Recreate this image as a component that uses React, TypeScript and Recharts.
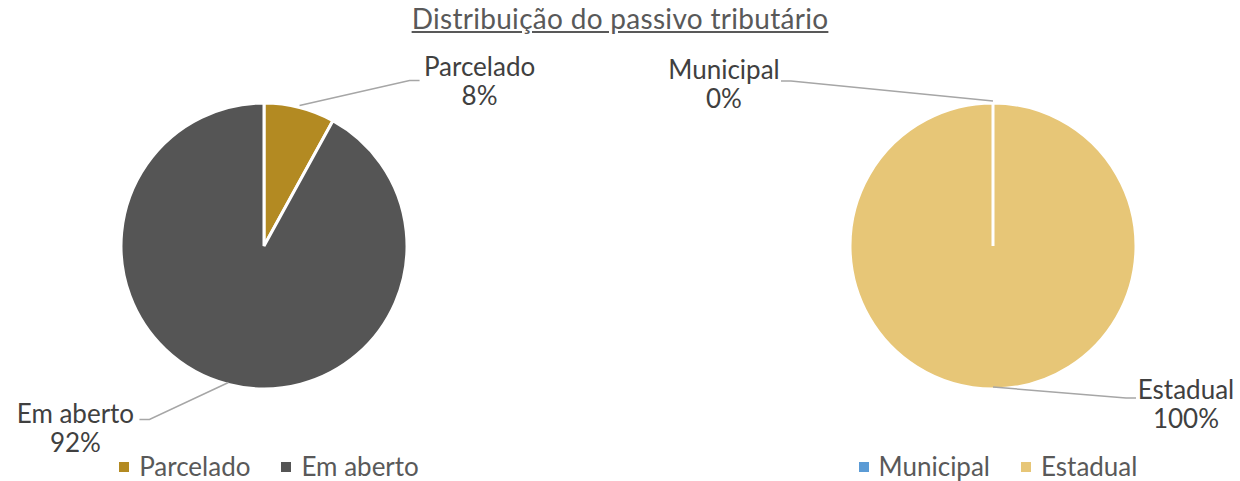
import React from "react";
import { PieChart, Pie, Cell, Legend } from "recharts";

const leftNames = ["Parcelado", "Em aberto"];
const leftValues = [8, 92];
const leftColors = ["#b38a22", "#555555"];

const rightNames = ["Municipal", "Estadual"];
const rightValues = [0, 100];
const rightColors = ["#5b9bd5", "#e7c677"];

// label placement relative to the slice edge: end of leader line, text offsets
const LABEL_POS: Record<string, { dx: number; dy: number; tx: number; ty: number }> = {
  Parcelado: { dx: 120, dy: -27, tx: 60, ty: -4 },
  "Em aberto": { dx: -89, dy: 35, tx: -64, ty: 3 },
  Municipal: { dx: -212, dy: -22, tx: -57, ty: -2 },
  Estadual: { dx: 143, dy: 9, tx: 50, ty: 1 },
};

const FONT = "Lato, 'Noto Sans', sans-serif";
const RAD = Math.PI / 180;

const renderLabel = (props: any) => {
  const { cx, cy, midAngle, outerRadius, name, percent } = props;
  const pos = LABEL_POS[name];
  if (!pos) return null;
  const sx = cx + outerRadius * Math.cos(-midAngle * RAD);
  const sy = cy + outerRadius * Math.sin(-midAngle * RAD);
  const ex = sx + pos.dx;
  const ey = sy + pos.dy;
  const dir = pos.dx > 0 ? 1 : -1;
  const kx = ex - dir * 10;
  const tx = ex + pos.tx;
  return (
    <g>
      <path
        d={`M${sx},${sy - 2}L${kx},${ey}L${ex},${ey}`}
        stroke="#a6a6a6"
        strokeWidth={1.5}
        fill="none"
      />
      <text
        x={tx}
        y={ey + pos.ty}
        textAnchor="middle"
        fill="#404040"
        fontSize={26}
        fontFamily={FONT}
      >
        <tspan x={tx} dy="0">{name}</tspan>
        <tspan x={tx} dy="29">{`${Math.round(percent * 100)}%`}</tspan>
      </text>
    </g>
  );
};

const makeLegend = (names: string[], colors: string[]) => () => (
  <div style={{ display: "flex", justifyContent: "center", gap: 31, fontFamily: FONT, fontSize: 26, color: "#595959", lineHeight: "31px" }}>
    {names.map((n, i) => (
      <div key={n} style={{ display: "flex", alignItems: "center" }}>
        <span style={{ width: 10, height: 10, background: colors[i], display: "inline-block", marginRight: 10 }} />
        <span>{n}</span>
      </div>
    ))}
  </div>
);

function SinglePie({ names, values, colors, cx }: { names: string[]; values: number[]; colors: string[]; cx: number }) {
  const data = names.map((n, i) => ({ name: n, value: values[i] }));
  return (
    <PieChart width={620} height={481} margin={{ top: 0, right: 0, bottom: 0, left: 0 }}>
      <Pie
        data={data}
        dataKey="value"
        nameKey="name"
        cx={cx}
        cy={246}
        outerRadius={143}
        startAngle={90}
        endAngle={-270}
        stroke="#ffffff"
        strokeWidth={3}
        labelLine={false}
        label={renderLabel}
        isAnimationActive={false}
      >
        {data.map((d, i) => (
          <Cell key={d.name} fill={colors[i]} />
        ))}
      </Pie>
      <Legend
        content={makeLegend(names, colors)}
        wrapperStyle={{ position: "absolute", left: cx - 195, width: 400, top: 451, bottom: "auto" }}
      />
    </PieChart>
  );
}

export default function App() {
  return (
    <div style={{ position: "absolute", left: 0, top: 0, width: 1240, height: 481, background: "#fff" }}>
      <div
        style={{
          position: "absolute",
          top: 1,
          left: 0,
          width: 1240,
          textAlign: "center",
          fontFamily: FONT,
          fontSize: 28,
          letterSpacing: 0.3,
          color: "#595959",
          textDecoration: "underline",
        }}
      >
        Distribuição do passivo tributário
      </div>
      <div style={{ position: "absolute", left: 0, top: 0 }}>
        <SinglePie names={leftNames} values={leftValues} colors={leftColors} cx={264} />
      </div>
      <div style={{ position: "absolute", left: 620, top: 0 }}>
        <SinglePie names={rightNames} values={rightValues} colors={rightColors} cx={373} />
      </div>
    </div>
  );
}
